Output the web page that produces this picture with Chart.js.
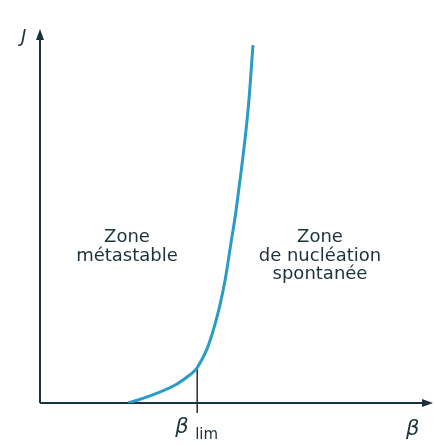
<!DOCTYPE html>
<html>
<head>
<meta charset="utf-8">
<script src="https://cdn.jsdelivr.net/npm/chart.js@4.4.1/dist/chart.umd.min.js"></script>
<style>
  html, body { margin: 0; padding: 0; background: #fff; }
  #wrap { width: 435px; height: 446px; }
</style>
</head>
<body>
<div id="wrap"><canvas id="nucleation"></canvas></div>
<script>
// courbe J = f(beta) : vitesse de nucléation en fonction de la sursaturation
const beta = [2.24, 2.80, 3.44, 3.87, 4.00, 4.27, 4.53, 4.71, 4.85, 4.99, 5.27, 5.42];
const vitesseJ = [0, 0.19, 0.48, 0.80, 0.94, 1.50, 2.41, 3.29, 4.22, 5.16, 7.57, 9.57];
const betaLim = 4.0;
const zoneGauche = ['Zone', 'métastable'];
const zoneDroite = ['Zone', 'de nucléation', 'spontanée'];

const INK = '#1c323c';
const CURVE = '#2a9ac6';

const points = beta.map((b, i) => ({ x: b, y: vitesseJ[i] }));

// axes fléchés, repère beta_lim et textes des zones
const schema = {
  id: 'schema',
  beforeDatasetsDraw(chart) {
    const { ctx, chartArea: a, scales: { x, y } } = chart;
    const x0 = x.getPixelForValue(0), y0 = y.getPixelForValue(0);
    ctx.save();
    ctx.strokeStyle = INK;
    ctx.fillStyle = INK;
    ctx.lineWidth = 2;
    ctx.beginPath();
    ctx.moveTo(x0, y0);
    ctx.lineTo(x0, a.top + 6);
    ctx.moveTo(x0, y0);
    ctx.lineTo(a.right - 6, y0);
    ctx.stroke();
    // pointes de flèche
    ctx.beginPath();
    ctx.moveTo(x0, a.top);
    ctx.lineTo(x0 - 4, a.top + 11);
    ctx.lineTo(x0 + 4, a.top + 11);
    ctx.closePath();
    ctx.fill();
    ctx.beginPath();
    ctx.moveTo(a.right, y0);
    ctx.lineTo(a.right - 11, y0 - 4);
    ctx.lineTo(a.right - 11, y0 + 4);
    ctx.closePath();
    ctx.fill();
    // trait vertical à beta_lim
    const iLim = beta.indexOf(betaLim);
    const xl = x.getPixelForValue(betaLim);
    ctx.lineWidth = 1.5;
    ctx.beginPath();
    ctx.moveTo(xl, y.getPixelForValue(vitesseJ[iLim]));
    ctx.lineTo(xl, y0 + 10);
    ctx.stroke();
    ctx.restore();
  },
  afterDraw(chart) {
    const { ctx, chartArea: a, scales: { x, y } } = chart;
    const y0 = y.getPixelForValue(0);
    ctx.save();
    ctx.fillStyle = INK;
    ctx.textBaseline = 'alphabetic';
    // étiquettes des axes
    ctx.textAlign = 'left';
    ctx.font = 'italic 18px "DejaVu Sans"';
    ctx.fillText('J', 21, a.top + 13);
    ctx.font = 'italic 21px "DejaVu Sans"';
    ctx.fillText('β', 406, y0 + 32);
    const xl = x.getPixelForValue(betaLim);
    ctx.fillText('β', xl - 22, y0 + 30);
    ctx.font = '15px "DejaVu Sans"';
    ctx.fillText('lim', xl - 2, y0 + 36);
    // zones
    ctx.font = '18px "DejaVu Sans"';
    ctx.textAlign = 'center';
    zoneGauche.forEach((t, i) => ctx.fillText(t, 127, 242 + i * 19));
    zoneDroite.forEach((t, i) => ctx.fillText(t, 320, 242 + i * 18.5));
    ctx.restore();
  }
};

new Chart(document.getElementById('nucleation'), {
  type: 'line',
  data: {
    datasets: [{
      data: points,
      borderColor: CURVE,
      borderWidth: 3,
      pointRadius: 0,
      tension: 0.4,
      fill: false
    }]
  },
  options: {
    responsive: true,
    maintainAspectRatio: false,
    animation: false,
    layout: { padding: { left: 40, right: 2, top: 29, bottom: 43 } },
    plugins: { legend: { display: false }, tooltip: { enabled: false } },
    scales: {
      x: { type: 'linear', min: 0, max: 10, display: false },
      y: { type: 'linear', min: 0, max: 10, display: false }
    }
  },
  plugins: [schema]
});
</script>
</body>
</html>
